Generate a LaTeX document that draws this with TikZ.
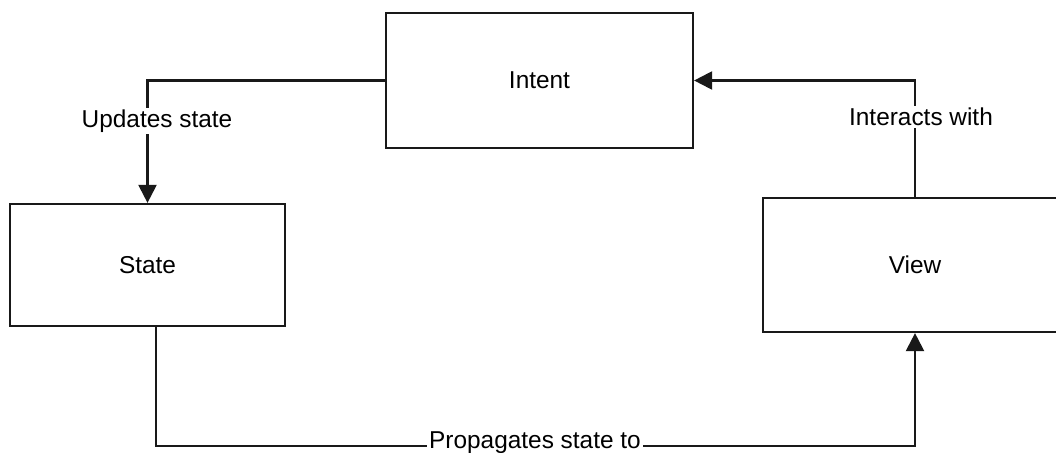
\documentclass[tikz,border=0pt]{standalone}
\usepackage{fontspec}
\setmainfont{Liberation Sans}
\usetikzlibrary{arrows.meta}
\begin{document}
\begin{tikzpicture}[x=0.5pt,y=-0.5pt,
  box/.style={draw=black!90,line width=1.1pt,fill=white,font=\fontsize{12.2}{14}\selectfont},
  link/.style={draw=black!90,line width=1.1pt},
  arr/.style={link,-{Triangle[width=9pt,length=9pt]}},
  lbl/.style={fill=white,inner sep=1pt,font=\fontsize{12.2}{14}\selectfont}]
\useasboundingbox (0,0) rectangle (1056,453);
% boxes
\node[box,minimum width=153.5pt,minimum height=67.5pt] (intent) at (539.5,80.5) {Intent};
\node[box,minimum width=137.5pt,minimum height=61pt] (state) at (147.5,265) {State};
\node[box,minimum width=152pt,minimum height=67pt] (view) at (915,265) {View};
% bends of the lower connector
\coordinate (sout) at (156,326);
\coordinate (sbend) at (156,446);
% connectors
\draw[arr] (intent.west) -| (state.north);
\draw[arr] (view.north) |- (intent.east);
\draw[arr] (sout) -- (sbend) -| (view.south);
% connector labels
\node[lbl] (lupd) at (157,121) {Updates state};
\node[lbl] (lint) at (921,117) {Interacts with};
\node[lbl] (lprop) at (535,443) {Propagates state to};
\end{tikzpicture}
\end{document}
